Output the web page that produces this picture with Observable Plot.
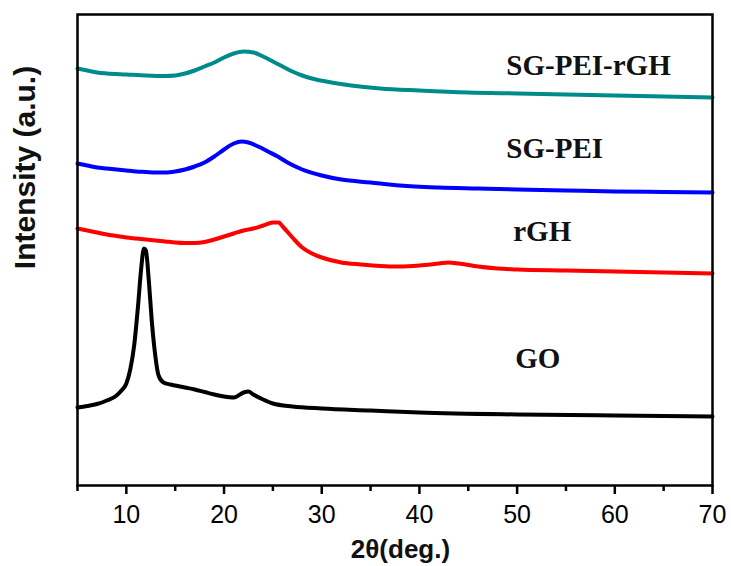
<!DOCTYPE html>
<html>
<head>
<meta charset="utf-8">
<script src="https://cdn.jsdelivr.net/npm/d3@7"></script>
<script src="https://cdn.jsdelivr.net/npm/@observablehq/plot@0.6"></script>
<style>
  html, body { margin: 0; padding: 0; background: #fff; }
</style>
</head>
<body>
<div id="chart"></div>
<script>
// XRD patterns (2θ in degrees, intensity in arbitrary units, curves stacked)
const seriesNames = ["GO", "rGH", "SG-PEI", "SG-PEI-rGH"];
const seriesColors = ["#000000", "#ff0000", "#0000ff", "#008b8b"];

const goTheta = [5, 6, 7, 8, 9, 9.5, 10, 10.4, 10.8, 11.2, 11.5, 11.8, 12.0, 12.3, 12.6, 12.9, 13.3, 13.8, 14.5, 15, 16, 17, 18, 19, 20, 21, 22, 22.5, 23, 24, 25, 27, 30, 35, 40, 50, 60, 70];
const goIntensity = [78, 79.5, 81.5, 85, 90, 95, 102, 116, 140, 180, 215, 237, 235, 205, 165, 135, 110, 103, 101, 100, 98, 96, 93.5, 91, 89, 88, 93, 94, 91, 86, 82, 79, 77, 75, 73, 71, 70, 69];

const rghTheta = [5, 6, 7, 8, 9, 10, 11, 12, 13, 14, 15, 16, 17, 18, 19, 20, 21, 22, 23, 24, 25, 25.6, 26, 27, 28, 29, 30, 32, 34, 36, 38, 40, 42, 43, 44, 46, 48, 50, 55, 60, 65, 70];
const rghIntensity = [257, 255, 253, 251, 249.5, 248, 247, 246, 245, 244, 243, 242.5, 242.5, 243.5, 246, 249, 252, 255, 257, 260, 263, 263, 259, 248, 238, 232, 228, 223, 221, 219.5, 219, 220, 222, 223, 222, 219, 217, 216, 215, 214, 213, 212];

const sgpeiTheta = [5, 6, 7, 8, 9, 10, 11, 12, 13, 14, 15, 16, 17, 18, 19, 20, 21, 21.8, 22.5, 23.5, 24.5, 25.5, 26.5, 28, 30, 32, 35, 38, 42, 46, 50, 55, 60, 65, 70];
const sgpeiIntensity = [322, 320, 318, 317, 316, 315, 314, 313.5, 313, 313, 314, 316, 319, 323, 329, 336, 342, 344, 343, 339, 334, 329, 323, 316, 310, 306, 303, 300, 298, 297, 296, 295, 294, 293.5, 293];

const sgpeirghTheta = [5, 6, 7, 8, 10, 12, 14, 15, 16, 17, 18, 19, 20, 21, 22, 23, 24, 25, 26, 27, 28, 29, 31, 33, 36, 40, 45, 50, 55, 60, 65, 70];
const sgpeirghIntensity = [417, 415, 413, 412, 411, 410, 409.5, 410, 412, 415, 419, 423, 428, 432, 434, 433, 429, 424, 419, 414, 410, 407, 403, 400, 397, 395, 393, 392, 391, 390, 389, 388];

const majorTicks = [10, 20, 30, 40, 50, 60, 70];
const minorTicks = [5, 15, 25, 35, 45, 55, 65];

const thetas = [goTheta, rghTheta, sgpeiTheta, sgpeirghTheta];
const intensities = [goIntensity, rghIntensity, sgpeiIntensity, sgpeirghIntensity];

// tidy table built from the arrays above
const rows = seriesNames.flatMap((name, i) =>
  thetas[i].map((t, j) => ({series: name, theta: t, intensity: intensities[i][j]}))
);

// series labels, placed in data units
const labels = [
  {text: "SG-PEI-rGH", theta: 48.9, intensity: 420},
  {text: "SG-PEI", theta: 48.9, intensity: 337},
  {text: "rGH", theta: 49.6, intensity: 254},
  {text: "GO", theta: 49.8, intensity: 127}
];

const chart = Plot.plot({
  width: 731,
  height: 566,
  marginLeft: 77,
  marginRight: 19,
  marginTop: 14,
  marginBottom: 81,
  style: {fontFamily: "Liberation Sans, Arial, sans-serif", background: "#fff", color: "#000"},
  x: {domain: [5, 70]},
  y: {domain: [0, 471], axis: null},
  color: {domain: seriesNames, range: seriesColors},
  marks: [
    Plot.line(rows, {
      x: "theta", y: "intensity", z: "series", stroke: "series",
      strokeWidth: 4, curve: "monotone-x"
    }),
    Plot.frame({stroke: "#000", strokeWidth: 2.5}),
    Plot.axisX({
      ticks: majorTicks, tickSize: 9, tickPadding: 11, strokeWidth: 2.5,
      fontSize: 25, label: null, tickFormat: d => String(d)
    }),
    Plot.axisX({
      ticks: minorTicks, tickSize: 6, strokeWidth: 2.5,
      label: null, tickFormat: () => ""
    }),
    Plot.text(labels, {
      x: "theta", y: "intensity", text: "text",
      textAnchor: "start", lineAnchor: "middle",
      fontFamily: "Liberation Serif, Times New Roman, serif",
      fontWeight: "bold", fontSize: 29, fill: "#111"
    }),
    Plot.text(["2θ(deg.)"], {
      frameAnchor: "bottom", dx: 5.5, dy: 64, lineAnchor: "middle",
      fontWeight: "bold", fontSize: 26, fill: "#111"
    }),
    Plot.text(["Intensity (a.u.)"], {
      frameAnchor: "top-left", dx: -52.5, dy: 153, rotate: -90,
      textAnchor: "middle", lineAnchor: "middle",
      fontWeight: "bold", fontSize: 30, fill: "#111"
    })
  ]
});

document.getElementById("chart").appendChild(chart);
</script>
</body>
</html>
